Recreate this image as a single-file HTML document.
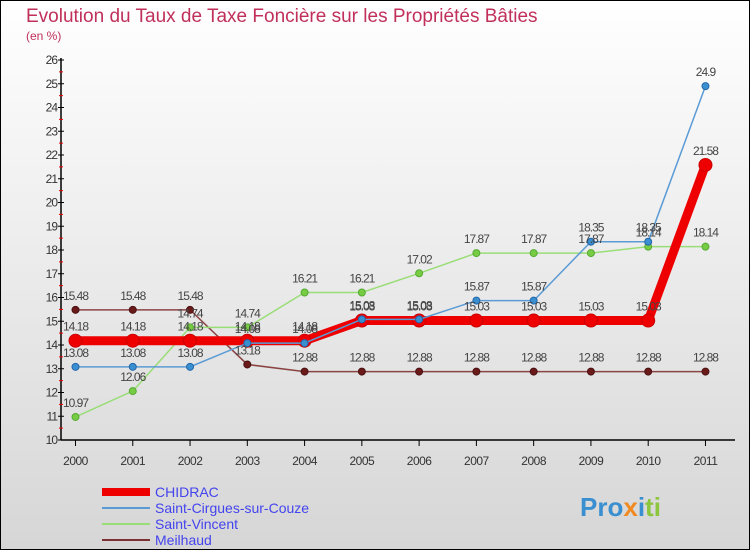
<!DOCTYPE html>
<html><head><meta charset="utf-8"><style>
body{margin:0}
#c{width:750px;height:550px;position:relative;overflow:hidden;font-family:"Liberation Sans",sans-serif}
</style></head><body>
<div id="c">
<svg id="s" width="750" height="550" xmlns="http://www.w3.org/2000/svg">
<defs><linearGradient id="bg" x1="0" y1="0" x2="0" y2="1"><stop offset="0" stop-color="#ffffff"/><stop offset="1" stop-color="#d6d6d6"/></linearGradient></defs>
<rect x="0.5" y="0.5" width="749" height="549" fill="url(#bg)" stroke="#000"/>
<text x="26" y="22" font-size="19" fill="#c0305a">Evolution du Taux de Taxe Foncière sur les Propriétés Bâties</text>
<text x="26" y="40" font-size="12" fill="#c0305a">(en %)</text>
<g id="axes"></g><g id="series"></g><g id="labels"></g>
<g>
<line x1="102" y1="492" x2="150" y2="492" stroke="#ee0000" stroke-width="8"/>
<text x="155" y="497" font-size="14" fill="#4444ee">CHIDRAC</text>
<line x1="102" y1="508" x2="150" y2="508" stroke="#5b9bd5" stroke-width="2"/>
<text x="155" y="513" font-size="14" fill="#4444ee">Saint-Cirgues-sur-Couze</text>
<line x1="102" y1="524" x2="150" y2="524" stroke="#99dd77" stroke-width="2"/>
<text x="155" y="529" font-size="14" fill="#4444ee">Saint-Vincent</text>
<line x1="102" y1="540" x2="150" y2="540" stroke="#7a3030" stroke-width="2"/>
<text x="155" y="545" font-size="14" fill="#4444ee">Meilhaud</text>
</g>
<text x="580" y="516" font-size="26" font-weight="bold"><tspan fill="#3a8fd0">Pro</tspan><tspan fill="#f08a20">x</tspan><tspan fill="#3a8fd0">i</tspan><tspan fill="#8cc63f">ti</tspan></text>
</svg></div>
<script>
const years=[2000,2001,2002,2003,2004,2005,2006,2007,2008,2009,2010,2011];
const chidrac=[14.18,14.18,14.18,14.18,14.18,15.03,15.03,15.03,15.03,15.03,15.03,21.58];
const cirgues=[13.08,13.08,13.08,14.08,14.08,15.08,15.08,15.87,15.87,18.35,18.35,24.9];
const vincent=[10.97,12.06,14.74,14.74,16.21,16.21,17.02,17.87,17.87,17.87,18.14,18.14];
const meilhaud=[15.48,15.48,15.48,13.18,12.88,12.88,12.88,12.88,12.88,12.88,12.88,12.88];
const yTicks=[10,11,12,13,14,15,16,17,18,19,20,21,22,23,24,25,26];
const NS="http://www.w3.org/2000/svg";
const X=i=>75.5+i*57.27, Y=v=>440-(v-10)*23.75;
function mk(t,a,p){const e=document.createElementNS(NS,t);for(const k in a)e.setAttribute(k,a[k]);p.appendChild(e);return e;}
const ax=document.getElementById('axes');
let e=mk('line',{x1:61,y1:58,x2:61,y2:440,stroke:'#000','stroke-width':1.5},ax);


e=mk('line',{x1:61,y1:440,x2:735,y2:440,stroke:'#000','stroke-width':1.5},ax);


yTicks.forEach(v=>{
 mk('line',{x1:58,x2:64,y1:Y(v),y2:Y(v),stroke:'#000'},ax);
 if(v<26)mk('line',{x1:59,x2:63,y1:Y(v+0.5),y2:Y(v+0.5),stroke:'#e00'},ax);
 const t=mk('text',{x:57,y:Y(v)+4,'font-size':12,fill:'#333','text-anchor':'end','letter-spacing':'-1'},ax);t.textContent=v;
 
 
});
years.forEach((y,i)=>{
 mk('line',{x1:X(i),x2:X(i),y1:440,y2:446,stroke:'#000'},ax);
 const t=mk('text',{x:X(i),y:465,'font-size':12,fill:'#333','text-anchor':'middle','letter-spacing':'-0.5'},ax);t.textContent=y;
 
 
});
const sg=document.getElementById('series'),lg=document.getElementById('labels');
function series(d,name,col,w,r,dot,stroke){
 const p=mk('polyline',{points:d.map((v,i)=>X(i)+','+Y(v)).join(' '),fill:'none',stroke:col,'stroke-width':w},sg);
 
 
 d.forEach((v,i)=>{
  const c=mk('circle',{cx:X(i),cy:Y(v),r:r,fill:dot,stroke:stroke,'stroke-width':1},sg);
  
  
  const t=mk('text',{x:X(i),y:Y(v)-10,'font-size':12,fill:'#444','text-anchor':'middle','letter-spacing':'-1'},lg);
  t.textContent=v;
  
  
 });
}
series(meilhaud,'meilhaud','#8a4444',1.5,3.5,'#6b1a1a','#4a1010');
series(vincent,'saint-vincent','#99dd77',1.5,3.5,'#77cc44','#55aa33');
series(chidrac,'chidrac','#ee0000',9,6.5,'#ee0000','#cc0000');
series(cirgues,'saint-cirgues','#5b9bd5',1.5,3.5,'#3a8fd0','#2266aa');
</script>
</body></html>
